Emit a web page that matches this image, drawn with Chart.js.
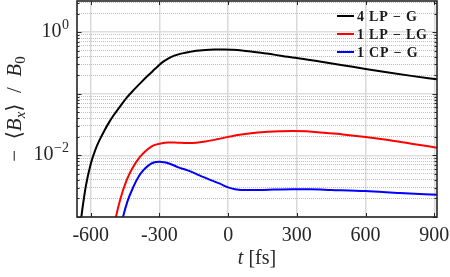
<!DOCTYPE html>
<html lang="en">
<head>
    <meta charset="UTF-8">
    <title>Field evolution - log plot</title>
    <script src="https://cdn.jsdelivr.net/npm/chart.js"></script>
    <style>
        html, body { margin: 0; padding: 0; background: #fff; }
        .chart-box { width: 450px; height: 277px; }
    </style>
</head>
<body>
    <div class="chart-box"><canvas id="fieldChart"></canvas></div>

    <script>
        // ---- data ----
        const seriesNames = ['4 LP \u2212 G', '1 LP \u2212 LG', '1 CP \u2212 G'];
        const seriesColors = ['#000000', '#ff0000', '#0000ff'];

        // 4 LP - G (black)
        const blackT = [-650, -640, -630, -620, -600, -580, -560, -540, -520, -500, -470, -440, -410, -380, -350, -320,
                        -300, -280, -260, -240, -220, -200, -170, -140, -100, -60, -20, 20, 60, 100, 150, 200, 260, 300,
                        400, 500, 600, 700, 800, 912];
        const blackV = [0.000501, 0.001072, 0.001995, 0.003388, 0.007244, 0.0123, 0.0182, 0.0254, 0.0343, 0.0447, 0.0638,
                        0.0891, 0.1175, 0.1531, 0.1972, 0.2512, 0.2951, 0.3388, 0.3758, 0.4074, 0.4315, 0.4519, 0.4764,
                        0.4977, 0.5129, 0.5212, 0.5236, 0.5164, 0.5035, 0.4842, 0.4571, 0.4315, 0.3981, 0.3802, 0.3327,
                        0.2904, 0.2529, 0.2213, 0.1950, 0.1718];

        // 1 LP - LG (red)
        const redT = [-500, -490, -470, -444, -420, -386, -360, -340, -320, -300, -260, -220, -180, -140, -100, -50,
                      0, 50, 100, 160, 220, 280, 340, 400, 500, 600, 700, 800, 912];
        const redV = [0.00063, 0.0010, 0.0020, 0.00389, 0.00603, 0.00933, 0.01175, 0.01349, 0.01479, 0.01549, 0.01622,
                      0.01603, 0.01585, 0.01603, 0.01679, 0.0182, 0.01995, 0.02163, 0.02291, 0.02399, 0.02455, 0.02483,
                      0.02455, 0.02344, 0.02188, 0.01995, 0.01778, 0.01549, 0.01334];

        // 1 CP - G (blue)
        const blueT = [-470, -459, -440, -415, -390, -370, -350, -328, -300, -280, -255, -220, -180, -140, -110, -70,
                       -36, 0, 30, 60, 140, 200, 280, 360, 450, 600, 750, 912];
        const blueV = [0.00063, 0.0010, 0.00178, 0.00302, 0.00457, 0.00575, 0.00676, 0.00759, 0.00785, 0.00776, 0.00733,
                       0.00646, 0.00575, 0.00501, 0.00447, 0.00389, 0.00347, 0.00302, 0.00282, 0.00275, 0.00275, 0.00279,
                       0.00282, 0.00282, 0.00275, 0.00263, 0.00245, 0.00229];

        // ---- axes ----
        const xTicks = [-600, -300, 0, 300, 600, 900];
        const yMajor = [0.001, 0.01, 0.1, 1];
        const yMinor = [0.002, 0.003, 0.004, 0.005, 0.006, 0.007, 0.008, 0.009,
                        0.02, 0.03, 0.04, 0.05, 0.06, 0.07, 0.08, 0.09,
                        0.2, 0.3, 0.4, 0.5, 0.6, 0.7, 0.8, 0.9, 2, 3];
        const yLabelValues = [1, 0.01];
        const yLabelExps = ['0', '\u22122'];

        const serif = '"Liberation Serif", "DejaVu Serif", serif';

        function toPoints(ts, vs) {
            return ts.map((t, i) => ({ x: t, y: vs[i] }));
        }

        // frame, inward ticks, tick labels, axis titles and legend
        const decorations = {
            id: 'decorations',
            afterDatasetsDraw(chart) {
                const { ctx, chartArea: a, scales } = chart;
                const sx = scales.x, sy = scales.y;
                ctx.save();

                // tick marks pointing inward
                ctx.strokeStyle = '#262626';
                ctx.lineWidth = 1;
                ctx.beginPath();
                xTicks.forEach(v => {
                    const px = Math.round(sx.getPixelForValue(v)) + 0.5;
                    ctx.moveTo(px, a.bottom); ctx.lineTo(px, a.bottom - 4);
                    ctx.moveTo(px, a.top); ctx.lineTo(px, a.top + 4);
                });
                yMajor.concat(yMinor).forEach(v => {
                    const py = Math.round(sy.getPixelForValue(v)) + 0.5;
                    const len = yMajor.includes(v) ? 4.5 : 2.5;
                    ctx.moveTo(a.left, py); ctx.lineTo(a.left + len, py);
                    ctx.moveTo(a.right, py); ctx.lineTo(a.right - len, py);
                });
                ctx.stroke();

                // box
                ctx.lineWidth = 1.6;
                ctx.strokeRect(a.left, a.top, a.right - a.left, a.bottom - a.top);

                // y labels 10^n
                ctx.fillStyle = '#262626';
                ctx.textAlign = 'right';
                ctx.textBaseline = 'alphabetic';
                yLabelValues.forEach((v, i) => {
                    const py = sy.getPixelForValue(v);
                    ctx.font = '14px ' + serif;
                    const ew = ctx.measureText(yLabelExps[i]).width;
                    ctx.fillText(yLabelExps[i], 69, py - 3);
                    ctx.font = '20px ' + serif;
                    ctx.fillText('10', 69 - ew - 0.5, py + 4.5);
                });

                // x title: t [fs]
                ctx.textAlign = 'left';
                ctx.font = 'italic 20px ' + serif;
                const tw = ctx.measureText('t').width;
                ctx.font = '20px ' + serif;
                const rw = ctx.measureText(' [fs]').width;
                let cx = (a.left + a.right) / 2 - (tw + rw) / 2;
                ctx.font = 'italic 20px ' + serif;
                ctx.fillText('t', cx, 264);
                ctx.font = '20px ' + serif;
                ctx.fillText(' [fs]', cx + tw, 264);

                // y title: -<B_x>/B_0
                const parts = [
                    ['\u2212  ', '21px ' + serif, 0],
                    ['\u27e8', '21px "DejaVu Serif", serif', 0],
                    ['B', 'italic 21px ' + serif, 0],
                    ['x', 'italic 15px ' + serif, 4],
                    ['\u27e9', '21px "DejaVu Serif", serif', 0],
                    ['  /  ', '21px ' + serif, 0],
                    ['B', 'italic 21px ' + serif, 0],
                    ['0', '15px ' + serif, 4]
                ];
                let total = 0;
                parts.forEach(p => { ctx.font = p[1]; total += ctx.measureText(p[0]).width; });
                ctx.translate(21, (a.top + a.bottom) / 2);
                ctx.rotate(-Math.PI / 2);
                let px = -total / 2;
                parts.forEach(p => {
                    ctx.font = p[1];
                    ctx.fillText(p[0], px, p[2]);
                    px += ctx.measureText(p[0]).width;
                });
                ctx.restore();

                // legend in the upper right corner
                ctx.save();
                ctx.font = 'bold 14px ' + serif;
                ctx.letterSpacing = '0.8px';
                ctx.textBaseline = 'middle';
                ctx.textAlign = 'left';
                chart.data.datasets.forEach((ds, i) => {
                    const ly = a.top + 15 + i * 18;
                    ctx.strokeStyle = ds.borderColor;
                    ctx.lineWidth = 2;
                    ctx.beginPath();
                    ctx.moveTo(337, ly); ctx.lineTo(354, ly);
                    ctx.stroke();
                    ctx.fillStyle = '#1a1a1a';
                    ctx.fillText(ds.label, 357, ly + 1);
                });
                ctx.restore();
            }
        };

        const ctx = document.getElementById('fieldChart').getContext('2d');
        const fieldChart = new Chart(ctx, {
            type: 'line',
            data: {
                datasets: [
                    { label: seriesNames[0], data: toPoints(blackT, blackV), borderColor: seriesColors[0] },
                    { label: seriesNames[1], data: toPoints(redT, redV), borderColor: seriesColors[1] },
                    { label: seriesNames[2], data: toPoints(blueT, blueV), borderColor: seriesColors[2] }
                ]
            },
            options: {
                responsive: true,
                maintainAspectRatio: false,
                animation: false,
                devicePixelRatio: 1,
                layout: { padding: { top: 1, right: 13, left: 0, bottom: 0 } },
                elements: {
                    line: { borderWidth: 2, cubicInterpolationMode: 'monotone', fill: false },
                    point: { radius: 0 }
                },
                plugins: {
                    legend: { display: false },
                    tooltip: { enabled: false }
                },
                scales: {
                    x: {
                        type: 'linear',
                        min: -660,
                        max: 912,
                        afterBuildTicks: s => { s.ticks = xTicks.map(v => ({ value: v })); },
                        afterFit: s => { s.height = 60; s.paddingLeft = 0; s.paddingRight = 0; },
                        grid: { color: '#d9d9d9', lineWidth: 1.5, drawTicks: false },
                        border: { display: false },
                        ticks: {
                            padding: 7,
                            color: '#262626',
                            font: { family: 'Liberation Serif', size: 20 },
                            maxRotation: 0,
                            callback: v => String(v)
                        }
                    },
                    y: {
                        type: 'logarithmic',
                        position: 'left',
                        min: 0.001,
                        max: 3.2,
                        afterBuildTicks: s => { s.ticks = yMajor.map(v => ({ value: v })); },
                        afterFit: s => { s.width = 77; s.paddingTop = 0; s.paddingBottom = 0; },
                        grid: { color: '#dedede', lineWidth: 1.5, drawTicks: false },
                        border: { display: false },
                        ticks: { display: false }
                    },
                    yMinorGrid: {
                        type: 'logarithmic',
                        position: 'left',
                        min: 0.001,
                        max: 3.2,
                        afterBuildTicks: s => { s.ticks = yMinor.map(v => ({ value: v })); },
                        afterFit: s => { s.width = 0; s.paddingTop = 0; s.paddingBottom = 0; },
                        grid: { color: '#bdbdbd', lineWidth: 1, drawTicks: false },
                        border: { display: false, dash: [1, 1] },
                        ticks: { display: false }
                    }
                }
            },
            plugins: [decorations]
        });
    </script>
</body>
</html>
